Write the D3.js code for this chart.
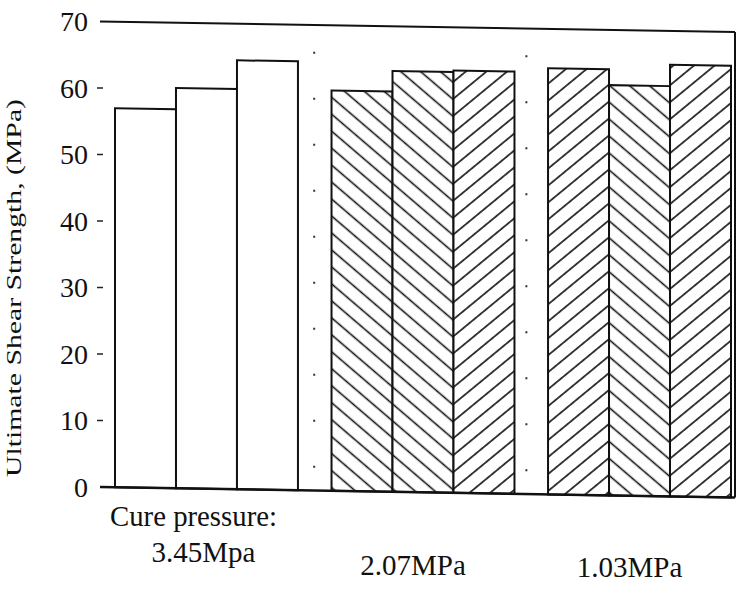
<!DOCTYPE html>
<html>
<head>
<meta charset="utf-8">
<script src="https://cdn.jsdelivr.net/npm/d3@7"></script>
<style>
  html, body { margin: 0; padding: 0; background: #fff; }
  svg { display: block; }
</style>
</head>
<body>
<svg id="chart" width="737" height="592" font-family="'Liberation Serif', 'DejaVu Serif', serif"></svg>
<script>
// ---- data ----
const groups = ["3.45Mpa", "2.07MPa", "1.03MPa"];
const seriesNames = ["s1", "s2", "s3"];
const series1 = [57.0, 60.2, 64.1];
const series2 = [60.2, 63.3, 61.7];
const series3 = [64.5, 63.5, 64.9];
const yTicks = [0, 10, 20, 30, 40, 50, 60, 70];
const yLabel = "Ultimate Shear Strength, (MPa)";
const firstLabel = "Cure pressure:";
// hatch style per group / series ("none", "back" = \\\ , "fwd" = ///)
const hatch = [["none", "none", "none"], ["back", "back", "fwd"], ["fwd", "back", "fwd"]];

const seriesValues = [series1, series2, series3];
const rows = groups.map((g, gi) => ({ group: g, bars: seriesNames.map((s, si) => ({ s, si, gi, v: seriesValues[si][gi] })) }));

// ---- layout ----
const W = 737, H = 592;
const left = 100, right = 735;
const y0 = 487, yTop = 21.5;
const skewDeg = Math.atan(10.5 / 635) * 180 / Math.PI;
const FONT = "Liberation Serif";

const svg = d3.select("#chart");
const defs = svg.append("defs");
function makeHatch(id, angle) {
  const p = defs.append("pattern").attr("id", id)
    .attr("patternUnits", "userSpaceOnUse").attr("width", 13).attr("height", 13)
    .attr("patternTransform", `rotate(${angle})`);
  p.append("rect").attr("width", 13).attr("height", 13).attr("fill", "#fff");
  p.append("line").attr("x1", 6.5).attr("x2", 6.5).attr("y1", -1).attr("y2", 14)
    .attr("stroke", "#111").attr("stroke-width", 1.6);
}
makeHatch("back", -50);
makeHatch("fwd", 50);

const y = d3.scaleLinear().domain([0, 70]).range([y0, yTop]);
const x0 = d3.scaleBand().domain(groups).range([115 - left, 731 - left]).paddingInner(0.155).paddingOuter(0);
const x1 = d3.scaleBand().domain(seriesNames).range([0, x0.bandwidth()]).padding(0);

// y tick labels and tick marks (left of the frame)
const yAxisG = svg.append("g");
yAxisG.selectAll("text.tick").data(yTicks).join("text")
  .attr("class", "tick")
  .attr("font-family", FONT)
  .attr("fill", "#111")
  .attr("x", 88).attr("y", d => y(d)).attr("dy", "0.35em")
  .attr("text-anchor", "end").attr("font-size", 28)
  .text(d => d);
yAxisG.selectAll("line.tick").data(yTicks.filter(d => d > 0 && d < 70)).join("line")
  .attr("class", "tick")
  .attr("x1", 97).attr("x2", 103).attr("y1", d => y(d)).attr("y2", d => y(d))
  .attr("stroke", "#222").attr("stroke-width", 1.5);

// y label
svg.append("text")
  .attr("font-family", FONT).attr("fill", "#111")
  .attr("transform", `translate(21,288) rotate(-90)`)
  .attr("text-anchor", "middle").attr("font-size", 21)
  .attr("textLength", 378).attr("lengthAdjust", "spacingAndGlyphs")
  .text(yLabel);

// plot (slightly skewed like the scanned original)
const plot = svg.append("g").attr("transform", `translate(${left},0) skewY(${skewDeg})`);

// faint dotted separators between groups
const sepX = [x0(groups[1]) - x0.step() * 0.08, x0(groups[2]) - x0.step() * 0.1];
plot.selectAll("line.sep").data(sepX).join("line")
  .attr("class", "sep")
  .attr("x1", d => d).attr("x2", d => d)
  .attr("y1", y(66)).attr("y2", y(0))
  .attr("stroke", "#333").attr("stroke-width", 2)
  .attr("stroke-dasharray", "2 44");

const gsel = plot.selectAll("g.grp").data(rows).join("g")
  .attr("class", "grp")
  .attr("transform", d => `translate(${x0(d.group)},0)`);

gsel.selectAll("rect").data(d => d.bars).join("rect")
  .attr("x", d => x1(d.s))
  .attr("y", d => y(d.v))
  .attr("width", x1.bandwidth())
  .attr("height", d => y(0) - y(d.v))
  .attr("fill", d => hatch[d.gi][d.si] === "none" ? "#fff" : `url(#${hatch[d.gi][d.si]})`)
  .attr("stroke", "#111").attr("stroke-width", 2);

// frame: top line, right border, baseline
plot.append("line").attr("x1", 0).attr("x2", right - left).attr("y1", y(70)).attr("y2", y(70))
  .attr("stroke", "#111").attr("stroke-width", 2);
plot.append("line").attr("x1", right - left).attr("x2", right - left).attr("y1", y(70)).attr("y2", y(0))
  .attr("stroke", "#111").attr("stroke-width", 2);
plot.append("line").attr("x1", 0).attr("x2", right - left).attr("y1", y(0)).attr("y2", y(0))
  .attr("stroke", "#111").attr("stroke-width", 2.5);

// category labels
const labelY = [562, 575, 577];
svg.append("text").attr("font-family", FONT).attr("fill", "#111")
  .attr("x", 110).attr("y", 526).attr("font-size", 29)
  .attr("textLength", 167).attr("lengthAdjust", "spacingAndGlyphs")
  .text(firstLabel);
svg.selectAll("text.cat").data(groups).join("text")
  .attr("class", "cat")
  .attr("font-family", FONT).attr("fill", "#111")
  .attr("x", (d, i) => left + x0(d) + x0.bandwidth() / 2 - (i === 0 ? 3 : 10))
  .attr("y", (d, i) => labelY[i])
  .attr("text-anchor", "middle").attr("font-size", 29)
  .text(d => d);
</script>
</body>
</html>
